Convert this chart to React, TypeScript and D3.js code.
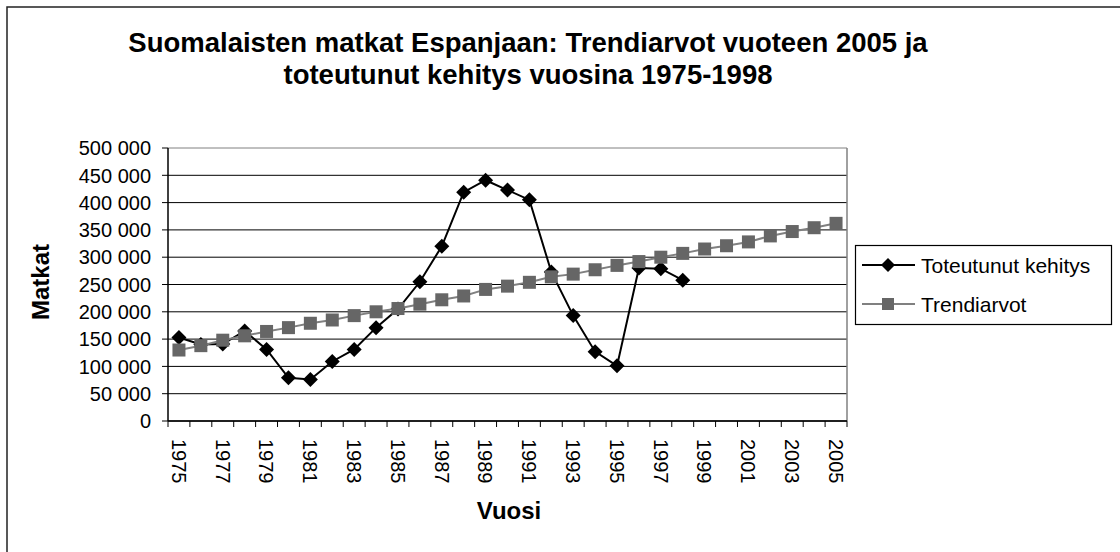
import React from "react";
import * as d3 from "d3";

const years: number[] = d3.range(1975, 2006);
const actualYears: number[] = d3.range(1975, 1999);
const actualValues: number[] = [
  153000, 140000, 141000, 165000, 131000, 79000, 76000, 109000, 131000, 171000,
  205000, 255000, 320000, 419000, 441000, 423000, 405000, 273000, 193000, 127000,
  101000, 280000, 279000, 258000,
];
const trendValues: number[] = [
  130000, 138000, 148000, 156000, 164000, 171000, 179000, 185000, 193000, 200000,
  206000, 214000, 222000, 229000, 241000, 247000, 254000, 264000, 269000, 277000,
  285000, 292000, 300000, 307000, 315000, 321000, 328000, 339000, 347000, 354000,
  362000,
];
const yTicks: number[] = [0, 50000, 100000, 150000, 200000, 250000, 300000, 350000, 400000, 450000, 500000];
const titleLines: string[] = [
  "Suomalaisten matkat Espanjaan: Trendiarvot vuoteen 2005 ja",
  "toteutunut kehitys vuosina 1975-1998",
];
const seriesNames: string[] = ["Toteutunut kehitys", "Trendiarvot"];

const W = 1120;
const H = 552;
const M = { left: 168, right: 847, top: 148, bottom: 421 };
const FONT = "Arial, 'Liberation Sans', sans-serif";

const fmt = d3
  .formatLocale({ decimal: ",", thousands: " ", grouping: [3], currency: ["", ""] })
  .format(",d");

export default function App() {
  const x = d3
    .scaleBand<number>()
    .domain(years)
    .range([M.left, M.right])
    .paddingInner(0)
    .paddingOuter(0);
  const y = d3.scaleLinear().domain([0, 500000]).range([M.bottom, M.top]);
  const cx = (yr: number) => (x(yr) as number) + x.bandwidth() / 2;

  const actualPts: [number, number][] = actualYears.map((yr, i) => [cx(yr), y(actualValues[i])]);
  const trendPts: [number, number][] = years.map((yr, i) => [cx(yr), y(trendValues[i])]);
  const line = d3.line<[number, number]>();

  const diamond = (px: number, py: number, r: number) =>
    `M${px},${py - r}L${px + r},${py}L${px},${py + r}L${px - r},${py}Z`;

  const boundaries = years.map((yr) => x(yr) as number).concat([M.right]);

  return (
    <svg
      width={W}
      height={H}
      style={{ position: "absolute", left: 0, top: 0, background: "#fff" }}
      fontFamily={FONT}
    >
      <rect x={0} y={0} width={W} height={H} fill="#fff" />
      <rect x={7} y={7} width={W + 20} height={H + 20} fill="none" stroke="#222" strokeWidth={1.5} />

      {titleLines.map((t, i) => (
        <text
          key={i}
          x={528}
          y={52 + i * 32}
          textAnchor="middle"
          fontSize={27.5}
          fontWeight="bold"
          fill="#000"
        >
          {t}
        </text>
      ))}

      {/* gridlines */}
      {yTicks.map((v) => (
        <line
          key={"g" + v}
          x1={M.left}
          x2={M.right}
          y1={y(v)}
          y2={y(v)}
          stroke={v === 500000 ? "#808080" : "#000"}
          strokeWidth={1}
        />
      ))}
      <line x1={M.right} x2={M.right} y1={M.top} y2={M.bottom} stroke="#808080" strokeWidth={1.5} />

      {/* y axis */}
      <line x1={M.left} x2={M.left} y1={M.top} y2={M.bottom} stroke="#000" strokeWidth={1.5} />
      {yTicks.map((v) => (
        <g key={"yt" + v}>
          <line x1={M.left - 6} x2={M.left} y1={y(v)} y2={y(v)} stroke="#000" strokeWidth={1} />
          <text x={151} y={y(v)} dy="0.36em" textAnchor="end" fontSize={20} fill="#000">
            {fmt(v)}
          </text>
        </g>
      ))}

      {/* x axis */}
      <line x1={M.left} x2={M.right} y1={M.bottom} y2={M.bottom} stroke="#000" strokeWidth={1.5} />
      {boundaries.map((bx, i) => (
        <line key={"xt" + i} x1={bx} x2={bx} y1={M.bottom} y2={M.bottom + 6} stroke="#000" strokeWidth={1} />
      ))}
      {years
        .filter((_, i) => i % 2 === 0)
        .map((yr) => (
          <text
            key={"xl" + yr}
            transform={`translate(${cx(yr)},${439}) rotate(90)`}
            dy="0.36em"
            textAnchor="start"
            fontSize={20}
            fill="#000"
          >
            {yr}
          </text>
        ))}

      <text x={509} y={519} textAnchor="middle" fontSize={24} fontWeight="bold" fill="#000">
        Vuosi
      </text>
      <text
        transform={`translate(${49},${282}) rotate(-90)`}
        textAnchor="middle"
        fontSize={24}
        fontWeight="bold"
        fill="#000"
      >
        Matkat
      </text>

      {/* series */}
      <path d={line(actualPts) || ""} fill="none" stroke="#000" strokeWidth={2} />
      {actualPts.map(([px, py], i) => (
        <path key={"d" + i} d={diamond(px, py, 7.5)} fill="#000" />
      ))}
      <path d={line(trendPts) || ""} fill="none" stroke="#808080" strokeWidth={2} />
      {trendPts.map(([px, py], i) => (
        <rect key={"s" + i} x={px - 6.5} y={py - 6.5} width={13} height={13} fill="#666" />
      ))}

      {/* legend */}
      <rect x={855.5} y={245.5} width={256} height={79} fill="#fff" stroke="#000" strokeWidth={1.2} />
      <line x1={862} x2={915} y1={265} y2={265} stroke="#000" strokeWidth={2} />
      <path d={diamond(888, 265, 7)} fill="#000" />
      <text x={921} y={265} dy="0.36em" fontSize={21} fill="#000">
        {seriesNames[0]}
      </text>
      <line x1={862} x2={915} y1={304} y2={304} stroke="#808080" strokeWidth={2} />
      <rect x={882} y={298} width={12} height={12} fill="#666" />
      <text x={921} y={304} dy="0.36em" fontSize={21} fill="#000">
        {seriesNames[1]}
      </text>
    </svg>
  );
}
